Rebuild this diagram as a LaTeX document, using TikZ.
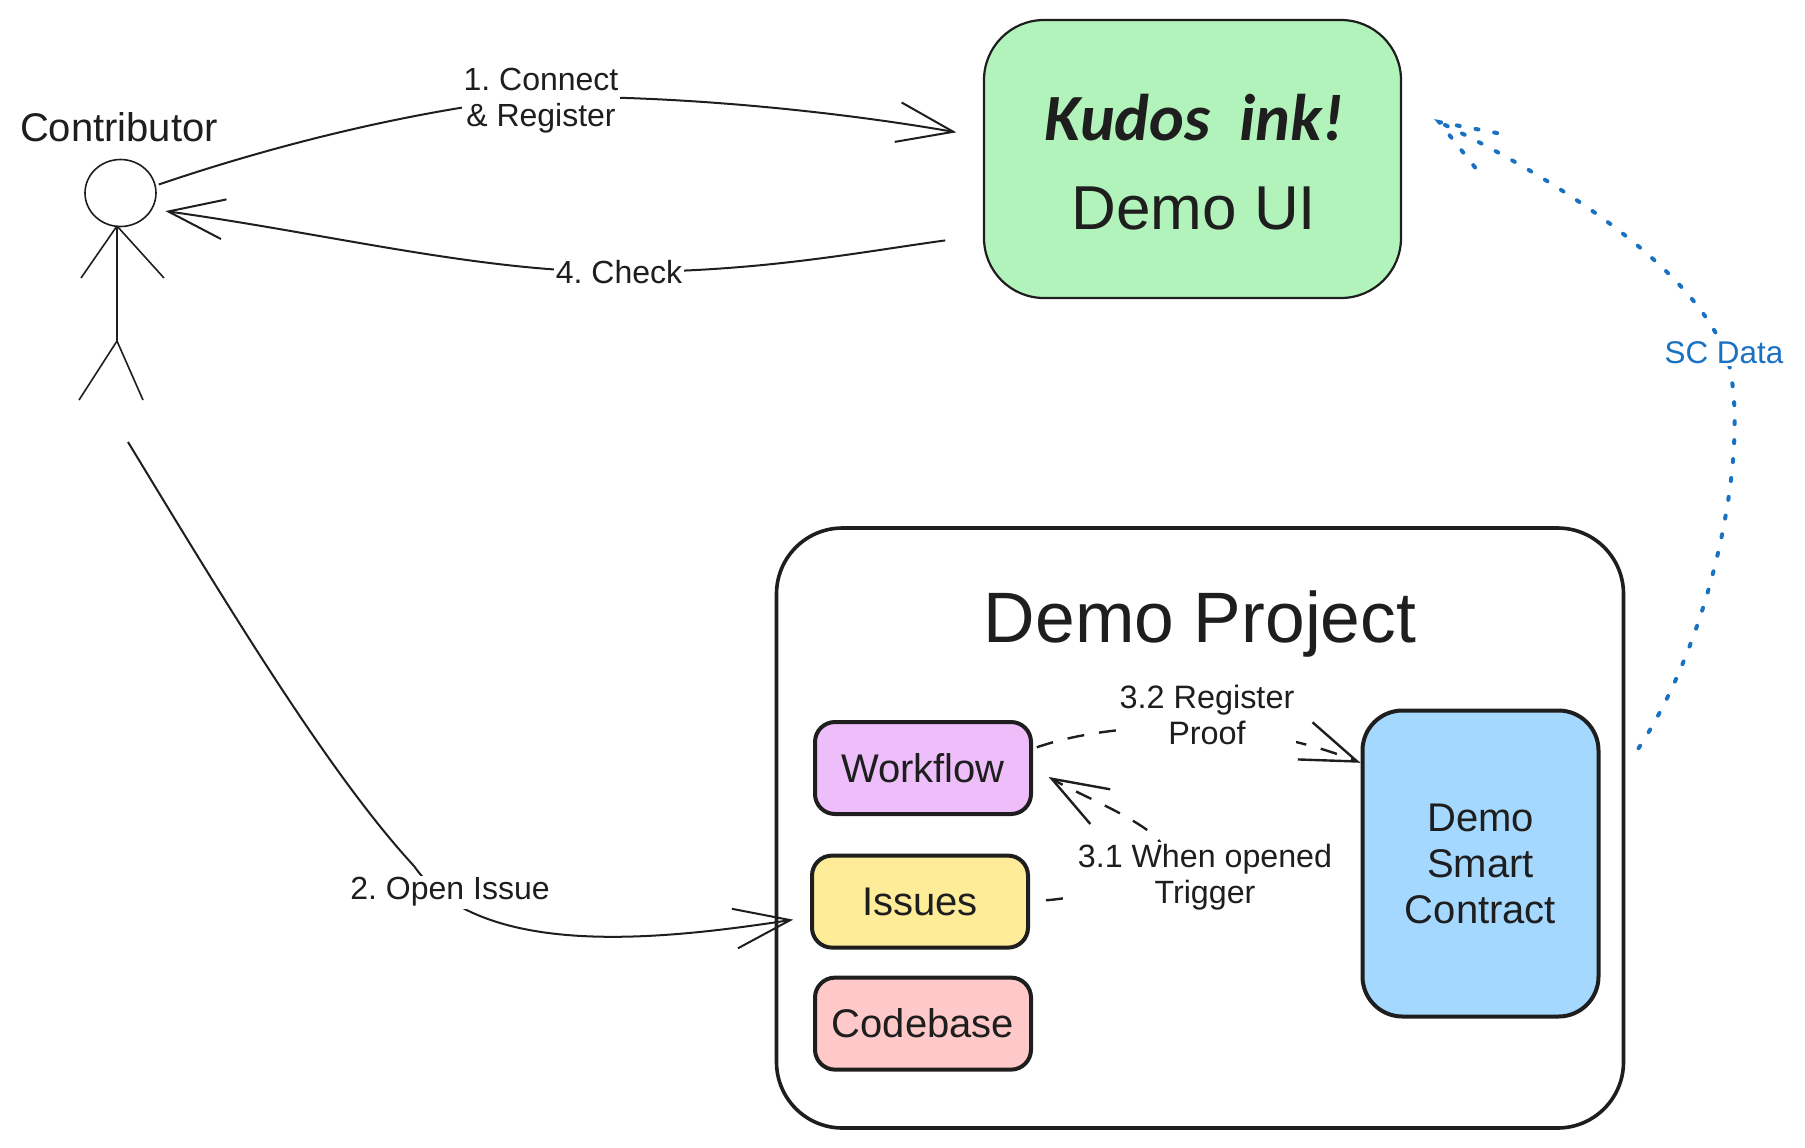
\documentclass[tikz,border=0pt]{standalone}
\usepackage{fontspec}
\usepackage{xcolor}
\setmainfont{Liberation Sans}
\newfontfamily\kudosfont{Carlito}
\usetikzlibrary{arrows.meta,positioning,calc,shapes.geometric}
\definecolor{ink}{HTML}{1E1E1E}
\definecolor{uigreen}{HTML}{B2F2BB}
\definecolor{flowpurple}{HTML}{EEBEFA}
\definecolor{issueyellow}{HTML}{FFEC99}
\definecolor{codepink}{HTML}{FFC9C9}
\definecolor{contractblue}{HTML}{A5D8FF}
\definecolor{scblue}{HTML}{1971C2}
\begin{document}
\frenchspacing
\begin{tikzpicture}[
  x=0.5pt, y=-0.5pt,
  color=ink,
  card/.style={draw=ink, rounded corners=10pt, line width=2pt, inner sep=0pt,
               align=center, minimum width=108pt, minimum height=46pt,
               font=\fontsize{20pt}{23pt}\selectfont},
  flow/.style={-{Straight Barb[length=28pt,width=20pt]}, line width=1pt, ink},
  dashflow/.style={flow, line width=1.2pt, dash pattern=on 8.5pt off 7.5pt},
  lbl/.style={fill=white, inner sep=1pt, align=center,
              font=\fontsize{16pt}{18pt}\selectfont},
  scdots/.style={scblue, line width=2pt, line cap=round, dash pattern=on 1.5pt off 8pt}
]
\useasboundingbox (0,0) rectangle (1805,1147);

\node[draw=ink, fill=uigreen, rounded corners=30pt, line width=1.1pt,
      minimum width=208.5pt, minimum height=139pt] (ui) at (1192.5,159) {};
\node[font=\kudosfont\bfseries\itshape\fontsize{33pt}{33pt}\selectfont] (kudos) at (1194,118) {Kudos\hspace{14.5pt}ink!};
\node[font=\fontsize{31pt}{31pt}\selectfont] (uilabel) at (1194,208) {Demo UI};

\node[draw=ink, rounded corners=33pt, line width=1.8pt,
      minimum width=423.5pt, minimum height=300pt] (project) at (1200,828) {};
\node[font=\fontsize{35.7pt}{35.7pt}\selectfont] (projectlabel) at (1200,624) {Demo Project};

\node[card, fill=flowpurple] (workflow) at (923,768) {Workflow};
\node[card, fill=issueyellow, below=18.8pt of workflow, xshift=-1.5pt] (issues) {Issues};
\node[card, fill=codepink, below=13pt of issues, xshift=1.5pt] (codebase) {Codebase};
\node[card, fill=contractblue, rounded corners=20pt, minimum width=118pt, minimum height=153pt]
  (contract) at (1480.5,863.5) {Demo\\Smart\\Contract};

\node[font=\fontsize{20pt}{20pt}\selectfont] (contributor) at (119,127) {Contributor};
\node[draw=ink, ellipse, line width=0.8pt, inner sep=0pt, minimum width=35.5pt, minimum height=33.5pt]
  (head) at (120.5,193) {};
\coordinate (neck) at (117,226);
\coordinate (hip) at (117,341);
\coordinate (actorfoot) at (128,442);
\draw[line width=0.8pt] (neck) -- (hip);
\draw[line width=0.8pt] (neck) -- (81,278);
\draw[line width=0.8pt] (neck) -- (164,278);
\draw[line width=0.8pt] (hip) -- (79,400);
\draw[line width=0.8pt] (hip) -- (143,400);

\draw[flow, shorten <=1.5pt, shorten >=13.5pt]
  (head.12) .. controls (260,150) and (400,112) .. (540,97)
  .. controls (680,95) and (840,112) .. (ui.174.9);
\draw[flow, shorten <=19pt, shorten >=6.5pt]
  (ui.200) .. controls (860,252) and (760,272) .. (620,272)
  .. controls (480,272) and (330,234) .. (head.-27);
\draw[flow, shorten >=8.5pt]
  (actorfoot) .. controls (230,610) and (330,775) .. (414,866)
  .. controls (480,960) and (660,940) .. (issues.188);
\draw[dashflow, shorten <=8pt, shorten >=9pt]
  (issues.east) .. controls (1110,895) and (1195,865) .. (1150,832)
  .. controls (1120,810) and (1080,795) .. (workflow.east);
\draw[dashflow, shorten <=2pt]
  (workflow.10.5) .. controls (1110,722) and (1240,715) .. (contract.140.6);

\node[lbl] (connectlbl) at (541,101) {1. Connect\\\&\ Register};
\node[lbl] (checklbl) at (619,272) {4. Check};
\node[lbl] (openlbl) at (450,892) {2. Open Issue};
\node[lbl, font=\fontsize{16.2pt}{18.2pt}\selectfont] (registerlbl) at (1207,715) {3.2 Register\\Proof};
\node[lbl, font=\fontsize{16.1pt}{18.2pt}\selectfont] (openedlbl) at (1205,877) {3.1 When opened\\Trigger};

\coordinate (sctip) at ($(ui.10)+(37,0)$);
\coordinate (scbarba) at ($(sctip)+(58,11)$);
\coordinate (scbarbb) at ($(sctip)+(38,48)$);
\draw[scdots, shorten <=12pt]
  (project.8.45) .. controls (1710,640) and (1745,470) .. (1732,381)
  .. controls (1725,300) and (1600,200) .. (sctip);
\draw[scdots] (scbarba) -- (sctip) -- (scbarbb);
\node[fill=white, inner sep=1pt, text=scblue, font=\fontsize{15.7pt}{15.7pt}\selectfont] (sclbl) at (1724,353) {SC Data};
\end{tikzpicture}
\end{document}
